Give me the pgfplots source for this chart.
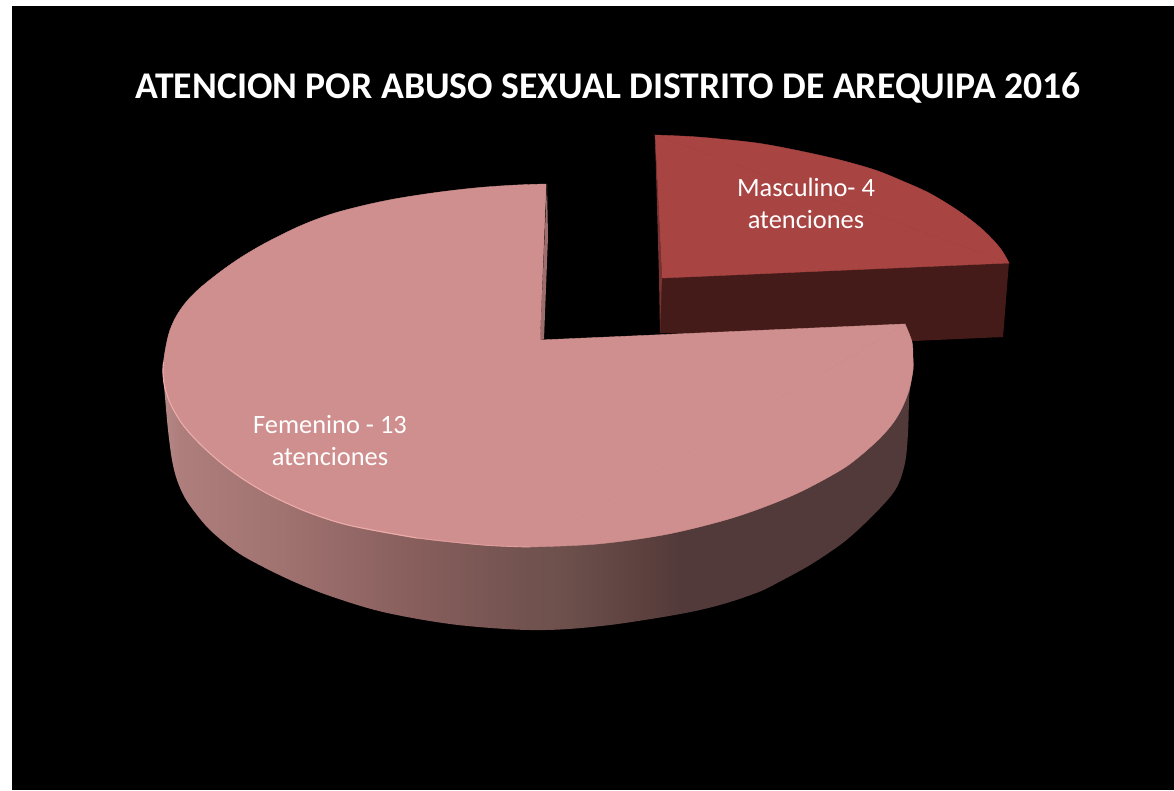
\documentclass[border=0pt]{standalone}
\usepackage{fontspec}
\setmainfont{Carlito}
\usepackage{pgfplots}
\pgfplotsset{compat=1.18}
\definecolor{topF}{HTML}{CF8F8E}
\definecolor{topM}{HTML}{A84442}
\definecolor{sideM}{HTML}{451B19}
\definecolor{rim}{HTML}{EBACAA}
\pgfdeclarehorizontalshading{wallshade}{100bp}{
 rgb(0bp)=(0.71,0.53,0.525);
 rgb(25bp)=(0.71,0.53,0.525);
 rgb(26.1bp)=(0.68,0.494,0.486);
 rgb(33bp)=(0.627,0.447,0.439);
 rgb(41.9bp)=(0.529,0.369,0.361);
 rgb(48.8bp)=(0.451,0.325,0.314);
 rgb(51.7bp)=(0.427,0.314,0.298);
 rgb(56.1bp)=(0.373,0.263,0.255);
 rgb(59.5bp)=(0.325,0.227,0.227);
 rgb(100bp)=(0.325,0.227,0.227)}
\begin{document}
\begin{tikzpicture}
\begin{axis}[
  hide axis, scale only axis, width=1174pt, height=790pt,
  xmin=0, xmax=1174, ymin=0, ymax=790, y dir=reverse,
  clip=true]
% page and background
\addplot[fill=white, draw=none] coordinates {(0,0)(1174,0)(1174,790)(0,790)} -- cycle;
\addplot[fill=black, draw=none] coordinates {(12,6)(1174,6)(1174,790)(12,790)} -- cycle;
% Masculino: 4 atenciones
\addplot[fill=sideM, draw=none] coordinates {(660,276)(1009,262)(1003,337)(913,341)(660,333)} -- cycle;
\addplot[fill=topM, draw=topM, line width=0.4pt, smooth, tension=0.55] coordinates
 {(655,135)(690,136.5)(720,139)(760,143.5)(800,151)(840,160)(875,170)(900,180)(930,193.5)(960,212)(983,230)(1000,248)(1009,263)} -- cycle;
\addplot[fill=topM, draw=topM, line width=0.4pt] coordinates {(655,135)(1009,263)(662,278)} -- cycle;
\addplot[fill={rgb,255:red,120;green,50;blue,48}, draw=none] coordinates {(655,135)(662,278)(660,333)(659,278)} -- cycle;
% Femenino: 13 atenciones, side wall
\addplot[shade, shading=wallshade, draw=none, smooth, tension=0.55] coordinates
 {(163,373)(165,397)(168,430)(172,460)(177,480)(185,498)(197,515)(210,530)(230,547)(250,560)(290,580)(330,596)(383,612)(450,624)
  (515,629.5)(560,629.5)(610,625)(663,617)(700,610)(730,602)(760,591.5)(780,581.5)(810,565)(840,545)(860,528)(883,505)(897,487)(905,463)(908,433)(909,400)(910,390)(913,370)} -- cycle;
% inner face sliver
\addplot[fill={rgb,255:red,158;green,110;blue,110}, draw=none] coordinates {(547,184)(548,237)(544,339)(540,340)} -- cycle;
% Femenino top surface
\addplot[fill=topF, draw=topF, line width=0.4pt, smooth, tension=0.55] coordinates
 {(546,184)(517,185)(480,187.5)(440,192)(400,198)(370,204)(340,211.5)(320,218)(300,226)(280,235.5)(260,246)(240,258)(220,272)(200,288)(187,301)(177,315)(170,330)(166,346)(163.5,362)(163,373)
  (165,388)(171,405)(183,425)(200,444)(220,462)(240,477)(260,489.5)(280,500)(310,513)(350,525.5)(417,538)(483,545)(530,547)} -- cycle;
\addplot[fill=topF, draw=topF, line width=0.4pt, smooth, tension=0.55] coordinates
 {(530,547)(597,544)(663,535)(720,521.5)(760,508.5)(800,492)(840,470.5)(860,456)(880,438)(893,423)(902,408)(909,390)(913,370)(913,358)(912,342)(905,324)} -- cycle;
\addplot[fill=topF, draw=topF, line width=0.4pt] coordinates {(546,184)(540,340)(905,324)(530,547)(500,400)} -- cycle;
% lit rim
\addplot[draw=rim, line width=1.1pt, smooth, tension=0.55] coordinates
 {(163.5,362)(163,373)(165,388)(171,405)(183,425)(200,444)(220,462)(240,477)(260,489.5)(280,500)(310,513)(350,525.5)(417,538)};
\addplot[draw=rim!55!topF, line width=0.9pt, smooth, tension=0.55] coordinates
 {(417,538)(483,545)(530,547)};
\node[white, font=\fontsize{37.7}{40}\selectfont\bfseries, anchor=center] at (axis cs:608,88) {ATENCION POR ABUSO SEXUAL DISTRITO DE AREQUIPA 2016};
\node[white, font=\fontsize{26.4}{32}\selectfont, align=center, anchor=center] at (axis cs:330,441) {Femenino - 13\\atenciones};
\node[white, font=\fontsize{26.4}{32}\selectfont, align=center, anchor=center] at (axis cs:806,203) {Masculino- 4\\atenciones};
\end{axis}
\end{tikzpicture}
\end{document}
